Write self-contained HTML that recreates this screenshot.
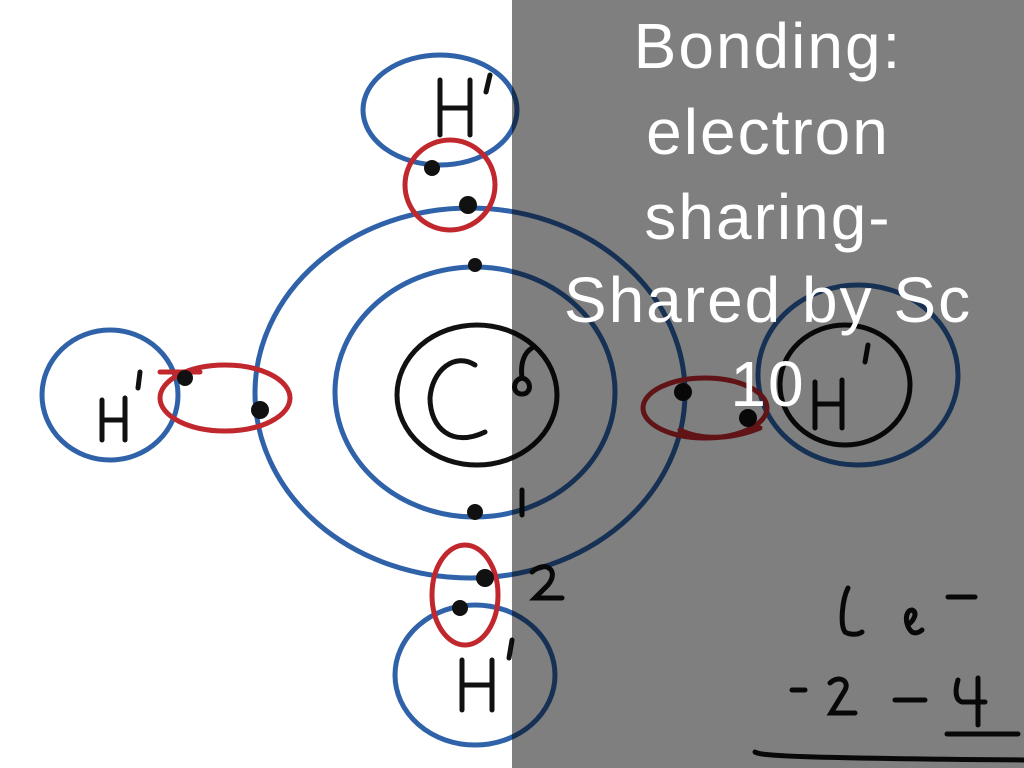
<!DOCTYPE html>
<html><head><meta charset="utf-8"><style>
html,body{margin:0;padding:0;width:1024px;height:768px;overflow:hidden;background:#fff}
</style></head><body>
<svg width="1024" height="768" viewBox="0 0 1024 768" xmlns="http://www.w3.org/2000/svg">
<rect width="1024" height="768" fill="#fff"/>
<g fill="none" stroke-width="5" stroke-linecap="round">
<g stroke="#2f62a8">
<ellipse cx="440" cy="110" rx="77" ry="55"/>
<ellipse cx="470" cy="393" rx="215" ry="185"/>
<ellipse cx="475" cy="392" rx="140" ry="125"/>
<ellipse cx="110" cy="395" rx="68" ry="65"/>
<ellipse cx="858" cy="375" rx="100" ry="90"/>
<ellipse cx="475" cy="675" rx="80" ry="70"/>
</g>
<g stroke="#c0282d">
<ellipse cx="450" cy="185" rx="45" ry="45"/>
<ellipse cx="225" cy="398" rx="65" ry="33"/>
<ellipse cx="705" cy="408" rx="62" ry="30"/>
<ellipse cx="465" cy="595" rx="33" ry="50"/>
</g>
<g stroke="#111">
<ellipse cx="477" cy="395" rx="80" ry="70"/>
<ellipse cx="845" cy="385" rx="65" ry="60"/>
<path d="M475 365 C455 352 432 370 430 398 C430 428 452 448 485 432"/>
<path d="M522 378 C512 380 512 394 522 394 C532 394 532 380 522 378 M522 378 C520 362 525 352 532 348"/>
<path d="M440 80 V135 M470 80 V135 M440 108 H470 M490 75 L486 92"/>
<path d="M102 400 V440 M125 398 V440 M102 420 H125 M140 372 L138 388"/>
<path d="M462 660 V710 M492 660 V710 M462 685 H492 M512 640 L509 658"/>
<path d="M815 382 V428 M842 380 V428 M815 404 H842 M868 345 L865 362"/>
<path d="M522 490 V515"/>
<path d="M532 572 C545 560 560 570 548 585 L535 598 H562"/>
<path d="M848 588 C842 600 840 625 845 632 C850 635 858 635 862 632"/>
<path d="M909 624 C914 620 918 612 912 610 C905 610 904 625 912 632 C916 634 920 632 922 630"/>
<path d="M948 597 H975"/>
<path d="M792 690 H805"/>
<path d="M830 683 C838 675 850 680 845 690 L831 713 H855"/>
<path d="M895 700 H925"/>
<path d="M958 680 C955 690 955 700 962 702 H985 M978 678 V725"/>
<path d="M947 734 H1018"/>
<path d="M755 752 C760 756 800 758 1024 760"/>
</g>
</g>
<g stroke="#c0282d" stroke-width="5" stroke-linecap="round" fill="none">
<path d="M160 372 H200"/><path d="M680 430 C700 440 730 440 760 428"/>
</g>
<g fill="#111">
<circle cx="468" cy="205" r="9"/><circle cx="475" cy="265" r="7"/>
<circle cx="260" cy="410" r="9"/><circle cx="185" cy="378" r="8"/>
<circle cx="683" cy="392" r="9"/><circle cx="748" cy="418" r="9"/>
<circle cx="475" cy="512" r="8"/><circle cx="485" cy="578" r="9"/>
<circle cx="460" cy="608" r="8"/><circle cx="432" cy="168" r="8"/>
</g>
<rect x="512" y="0" width="512" height="768" fill="#000" opacity="0.5"/>
<g fill="#fff" font-family="Liberation Sans, sans-serif" font-size="64" text-anchor="middle" letter-spacing="2">
<text x="768" y="68">Bonding:</text>
<text x="768" y="154">electron</text>
<text x="768" y="239">sharing-</text>
<text x="768" y="322">Shared by Sc</text>
<text x="768" y="406">10</text>
</g>
</svg>
</body></html>
